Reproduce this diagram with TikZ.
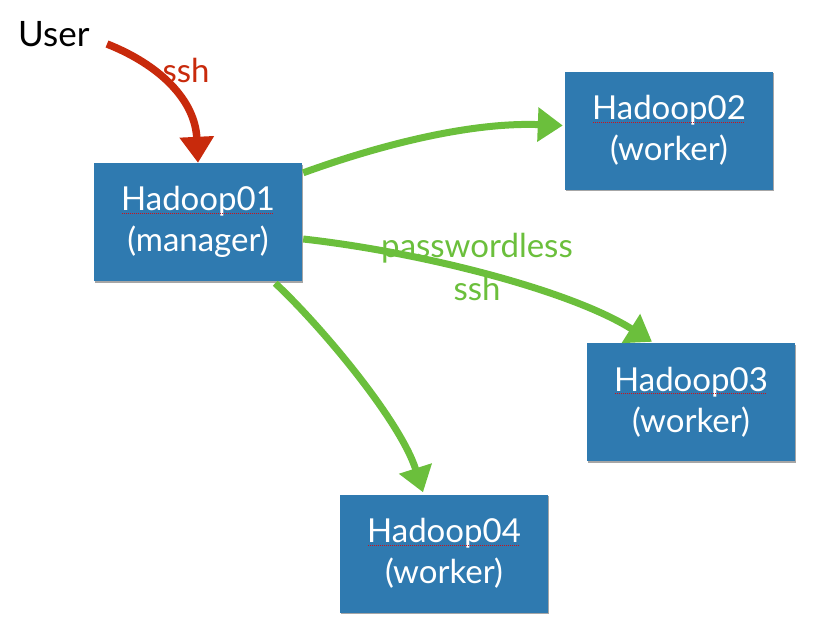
\documentclass[tikz,border=0pt]{standalone}
\usepackage{fontspec}
\setmainfont{Lato}
\usetikzlibrary{arrows.meta,shadows}
\definecolor{boxblue}{HTML}{2F7AB0}
\definecolor{chalkred}{HTML}{C82A0C}
\definecolor{chalkgreen}{HTML}{6BBF3C}
\definecolor{squigred}{HTML}{D0101A}
\newsavebox\squigbox
\newlength\squiglen
\newcommand\squigul[1]{\sbox\squigbox{#1}\setlength\squiglen{\wd\squigbox}\rlap{\usebox\squigbox}{\color{squigred}\raisebox{-3pt}{\hbox to \squiglen{\leaders\hbox to 2pt{\hss\rule{1pt}{1pt}\hss}\hfill}}}}
\tikzset{
  hbox/.style={rectangle, fill=boxblue, text=white, minimum width=208pt, minimum height=118pt,
    inner sep=0pt, align=center, font=\fontsize{33}{41}\selectfont,
    drop shadow={shadow xshift=1pt, shadow yshift=-1.5pt, opacity=0.35, fill=black}},
  redarrow/.style={draw=chalkred, line width=7.5pt, -{Triangle[length=26pt,width=33pt]}},
  greenarrow/.style={draw=chalkgreen, line width=7pt, -{Triangle[length=25pt,width=33pt]}},
  lbl/.style={font=\fontsize{33}{43}\selectfont, align=center, inner sep=0pt}
}
\begin{document}
\begin{tikzpicture}[x=1pt,y=-1pt]
\useasboundingbox (0,0) rectangle (817,633);
\node[font=\fontsize{35}{40}\selectfont, anchor=base west, inner sep=0pt] (user) at (18,46) {User};
\coordinate (ustart) at (107,44);
\node[hbox] (h1) at (198,222) {\squigul{Hadoop01}\\(manager)};
\node[hbox] (h2) at (669,130.5) {\squigul{Hadoop02}\\(worker)};
\node[hbox] (h3) at (691,402) {\squigul{Hadoop03}\\(worker)};
\node[hbox] (h4) at (444,553.5) {\squigul{Hadoop04}\\(worker)};
\draw[redarrow] (ustart) .. controls (160,65) and (195,100) .. (h1.north);
\node[lbl, text=chalkred, anchor=base] (sshred) at (186,82) {ssh};
\draw[greenarrow] ([shift={(1,10)}]h1.north east) .. controls (380,145) and (470,122) .. ([shift={(-2,-5)}]h2.west);
\draw[greenarrow] ([shift={(1,17)}]h1.east) .. controls (420,252) and (570,290) .. ([shift={(-39,-1)}]h3.north);
\draw[greenarrow] ([shift={(-27,2)}]h1.south east) .. controls (320,325) and (400,420) .. ([shift={(-21,-2)}]h4.north);
\node[lbl, text=chalkgreen, anchor=base] (pwl) at (477,257) {passwordless};
\node[lbl, text=chalkgreen, anchor=base] (pwssh) at (477,300) {ssh};
\end{tikzpicture}
\end{document}
